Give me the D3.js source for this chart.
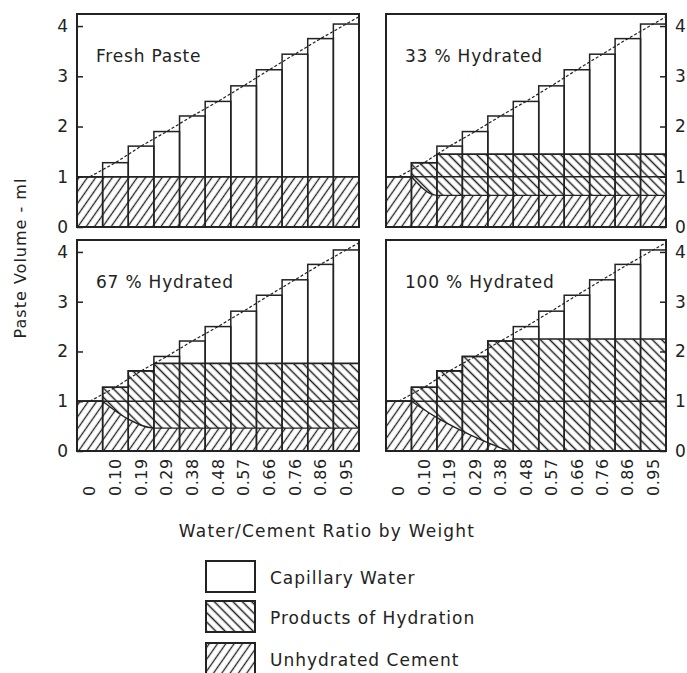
<!DOCTYPE html>
<html>
<head>
<meta charset="utf-8">
<script src="https://cdn.jsdelivr.net/npm/d3@7"></script>
<style>
  body { margin: 0; background: #fff; }
  svg text { font-family: "DejaVu Sans", sans-serif; fill: #222; }
</style>
</head>
<body>
<div class="chart"></div>
<script>
// values
const ratios = ['0', '0.10', '0.19', '0.29', '0.38', '0.48', '0.57', '0.66', '0.76', '0.86', '0.95'];
const totalVolume = [1.00, 1.28, 1.61, 1.90, 2.21, 2.50, 2.81, 3.13, 3.44, 3.75, 4.04];
const panelTitles = ['Fresh Paste', '33 % Hydrated', '67 % Hydrated', '100 % Hydrated'];
// top of the hydration products once water is no longer limiting
const productsLevel = [null, 1.45, 1.76, 2.25];
// unhydrated cement boundary at the left edge of bars 1, 2, ...
const cementCurves = [
  [1.00],
  [1.00, 0.63],
  [1.00, 0.64, 0.46],
  [1.00, 0.67, 0.40, 0.17, 0.00]
];
const yTicks = [0, 1, 2, 3, 4];
const legendLabels = ['Capillary Water', 'Products of Hydration', 'Unhydrated Cement'];

const w = 687;
const h = 673;
const cols = [[77, 359], [386, 666]];
const rows = [{top: 14, bottom: 227}, {top: 240, bottom: 451}];
const ink = '#222';

const svg = d3.select('.chart')
  .append('svg')
  .attr('width', w)
  .attr('height', h);

const defs = svg.append('defs');

function hatch(id, angle, gap, sw) {
  const p = defs.append('pattern')
    .attr('id', id)
    .attr('patternUnits', 'userSpaceOnUse')
    .attr('width', gap)
    .attr('height', gap)
    .attr('patternTransform', `rotate(${angle})`);
  p.append('rect').attr('width', gap).attr('height', gap).attr('fill', '#fff');
  p.append('line')
    .attr('x1', gap / 2).attr('x2', gap / 2)
    .attr('y1', 0).attr('y2', gap)
    .attr('stroke', ink)
    .attr('stroke-width', sw);
}
hatch('cement', 35, 6.8, 1.3);
hatch('products', -45, 6.6, 1.5);

panelTitles.forEach((title, p) => {
  const col = p % 2;
  const row = rows[Math.floor(p / 2)];
  const left = cols[col][0];
  const right = cols[col][1];
  const xScale = d3.scaleBand()
    .domain(ratios)
    .range(cols[col]);
  const yScale = d3.scaleLinear()
    .domain([0, 4.24])
    .range([row.bottom, row.top]);
  const bw = xScale.bandwidth();
  const g = svg.append('g');

  // products of hydration
  if (productsLevel[p] !== null) {
    const pts = ratios.map((r, i) => [xScale(r), Math.min(totalVolume[i], productsLevel[p])]);
    pts.push([right, pts[pts.length - 1][1]]);
    g.append('path')
      .attr('d', d3.area().x((d) => d[0]).y0(yScale(0)).y1((d) => yScale(d[1])).curve(d3.curveStepAfter)(pts))
      .attr('fill', 'url(#products)');
    g.append('path')
      .attr('d', d3.line().x((d) => d[0]).y((d) => yScale(d[1])).curve(d3.curveStepAfter)(pts))
      .attr('fill', 'none')
      .attr('stroke', ink)
      .attr('stroke-width', 1.6);
  }

  // unhydrated cement: flat over the first bar, then the hydration curve
  const curve = cementCurves[p];
  const cpts = curve.map((v, k) => [xScale(ratios[k + 1]), v]);
  cpts.push([right, curve[curve.length - 1]]);
  const curvePath = d3.line().x((d) => d[0]).y((d) => yScale(d[1])).curve(d3.curveMonotoneX)(cpts);
  const boundary = `M${left},${yScale(1)}L` + curvePath.slice(1);
  g.append('path')
    .attr('d', `${boundary}L${right},${yScale(0)}L${left},${yScale(0)}Z`)
    .attr('fill', 'url(#cement)');
  g.append('path')
    .attr('d', boundary)
    .attr('fill', 'none')
    .attr('stroke', ink)
    .attr('stroke-width', 1.4);

  // reference line at 1 ml
  g.append('line')
    .attr('x1', left).attr('x2', right)
    .attr('y1', yScale(1)).attr('y2', yScale(1))
    .attr('stroke', ink)
    .attr('stroke-width', 1.6);

  // bar outlines
  g.selectAll('rect.bar')
    .data(totalVolume)
    .enter()
    .append('rect')
    .attr('class', 'bar')
    .attr('x', (d, i) => xScale(ratios[i]))
    .attr('y', (d) => yScale(d))
    .attr('width', bw)
    .attr('height', (d) => yScale(0) - yScale(d))
    .attr('fill', 'none')
    .attr('stroke', ink)
    .attr('stroke-width', 1.5);

  // theoretical volume line
  const dpts = ratios.map((r, i) => [xScale(r) + bw / 2, totalVolume[i]]);
  const n = dpts.length;
  const slope = (dpts[n - 1][1] - dpts[n - 2][1]) / (dpts[n - 1][0] - dpts[n - 2][0]);
  dpts.push([right, dpts[n - 1][1] + slope * (right - dpts[n - 1][0])]);
  g.append('path')
    .attr('d', d3.line().x((d) => d[0]).y((d) => yScale(d[1]))(dpts))
    .attr('fill', 'none')
    .attr('stroke', ink)
    .attr('stroke-width', 1.2)
    .attr('stroke-dasharray', '3,2');

  // frame
  g.append('rect')
    .attr('x', left)
    .attr('y', row.top)
    .attr('width', right - left)
    .attr('height', row.bottom - row.top)
    .attr('fill', 'none')
    .attr('stroke', ink)
    .attr('stroke-width', 2);

  // y axis, ticks pointing inward
  const axis = col === 0 ? d3.axisLeft(yScale) : d3.axisRight(yScale);
  const ax = g.append('g')
    .attr('transform', `translate(${col === 0 ? left : right}, 0)`)
    .call(axis.tickValues(yTicks).tickFormat(d3.format('d')).tickSize(-6).tickPadding(9));
  ax.select('.domain').remove();
  ax.selectAll('line').attr('stroke', ink).attr('stroke-width', 1.5);
  ax.selectAll('text').attr('font-size', 17).attr('fill', ink).attr('font-family', '"DejaVu Sans", sans-serif');

  g.append('text')
    .attr('x', left + 19)
    .attr('y', row.top + 48)
    .attr('font-size', 17)
    .attr('letter-spacing', 0.8)
    .text(title);

  // x tick labels under the bottom row
  if (p >= 2) {
    g.selectAll('text.xlab')
      .data(ratios)
      .enter()
      .append('text')
      .attr('class', 'xlab')
      .attr('transform', (d) => `translate(${xScale(d) + bw / 2}, 496) rotate(-90)`)
      .attr('dy', '0.35em')
      .attr('font-size', 16)
      .attr('letter-spacing', 0.5)
      .text((d) => d);
  }
});

svg.append('text')
  .attr('transform', 'translate(26, 258) rotate(-90)')
  .attr('text-anchor', 'middle')
  .attr('font-size', 16)
  .attr('letter-spacing', 1)
  .text('Paste Volume - ml');

svg.append('text')
  .attr('x', 327)
  .attr('y', 537)
  .attr('text-anchor', 'middle')
  .attr('font-size', 17)
  .attr('letter-spacing', 1.2)
  .text('Water/Cement Ratio by Weight');

// legend
const legendFills = ['#fff', 'url(#products)', 'url(#cement)'];
const legendTops = [561, 601, 643];
const legend = svg.append('g');
legendLabels.forEach((label, i) => {
  legend.append('rect')
    .attr('x', 206)
    .attr('y', legendTops[i])
    .attr('width', 49)
    .attr('height', 31)
    .attr('fill', legendFills[i])
    .attr('stroke', ink)
    .attr('stroke-width', 2);
  legend.append('text')
    .attr('x', 270)
    .attr('y', legendTops[i] + 23)
    .attr('font-size', 17)
    .attr('letter-spacing', 1)
    .text(label);
});
</script>
</body>
</html>
